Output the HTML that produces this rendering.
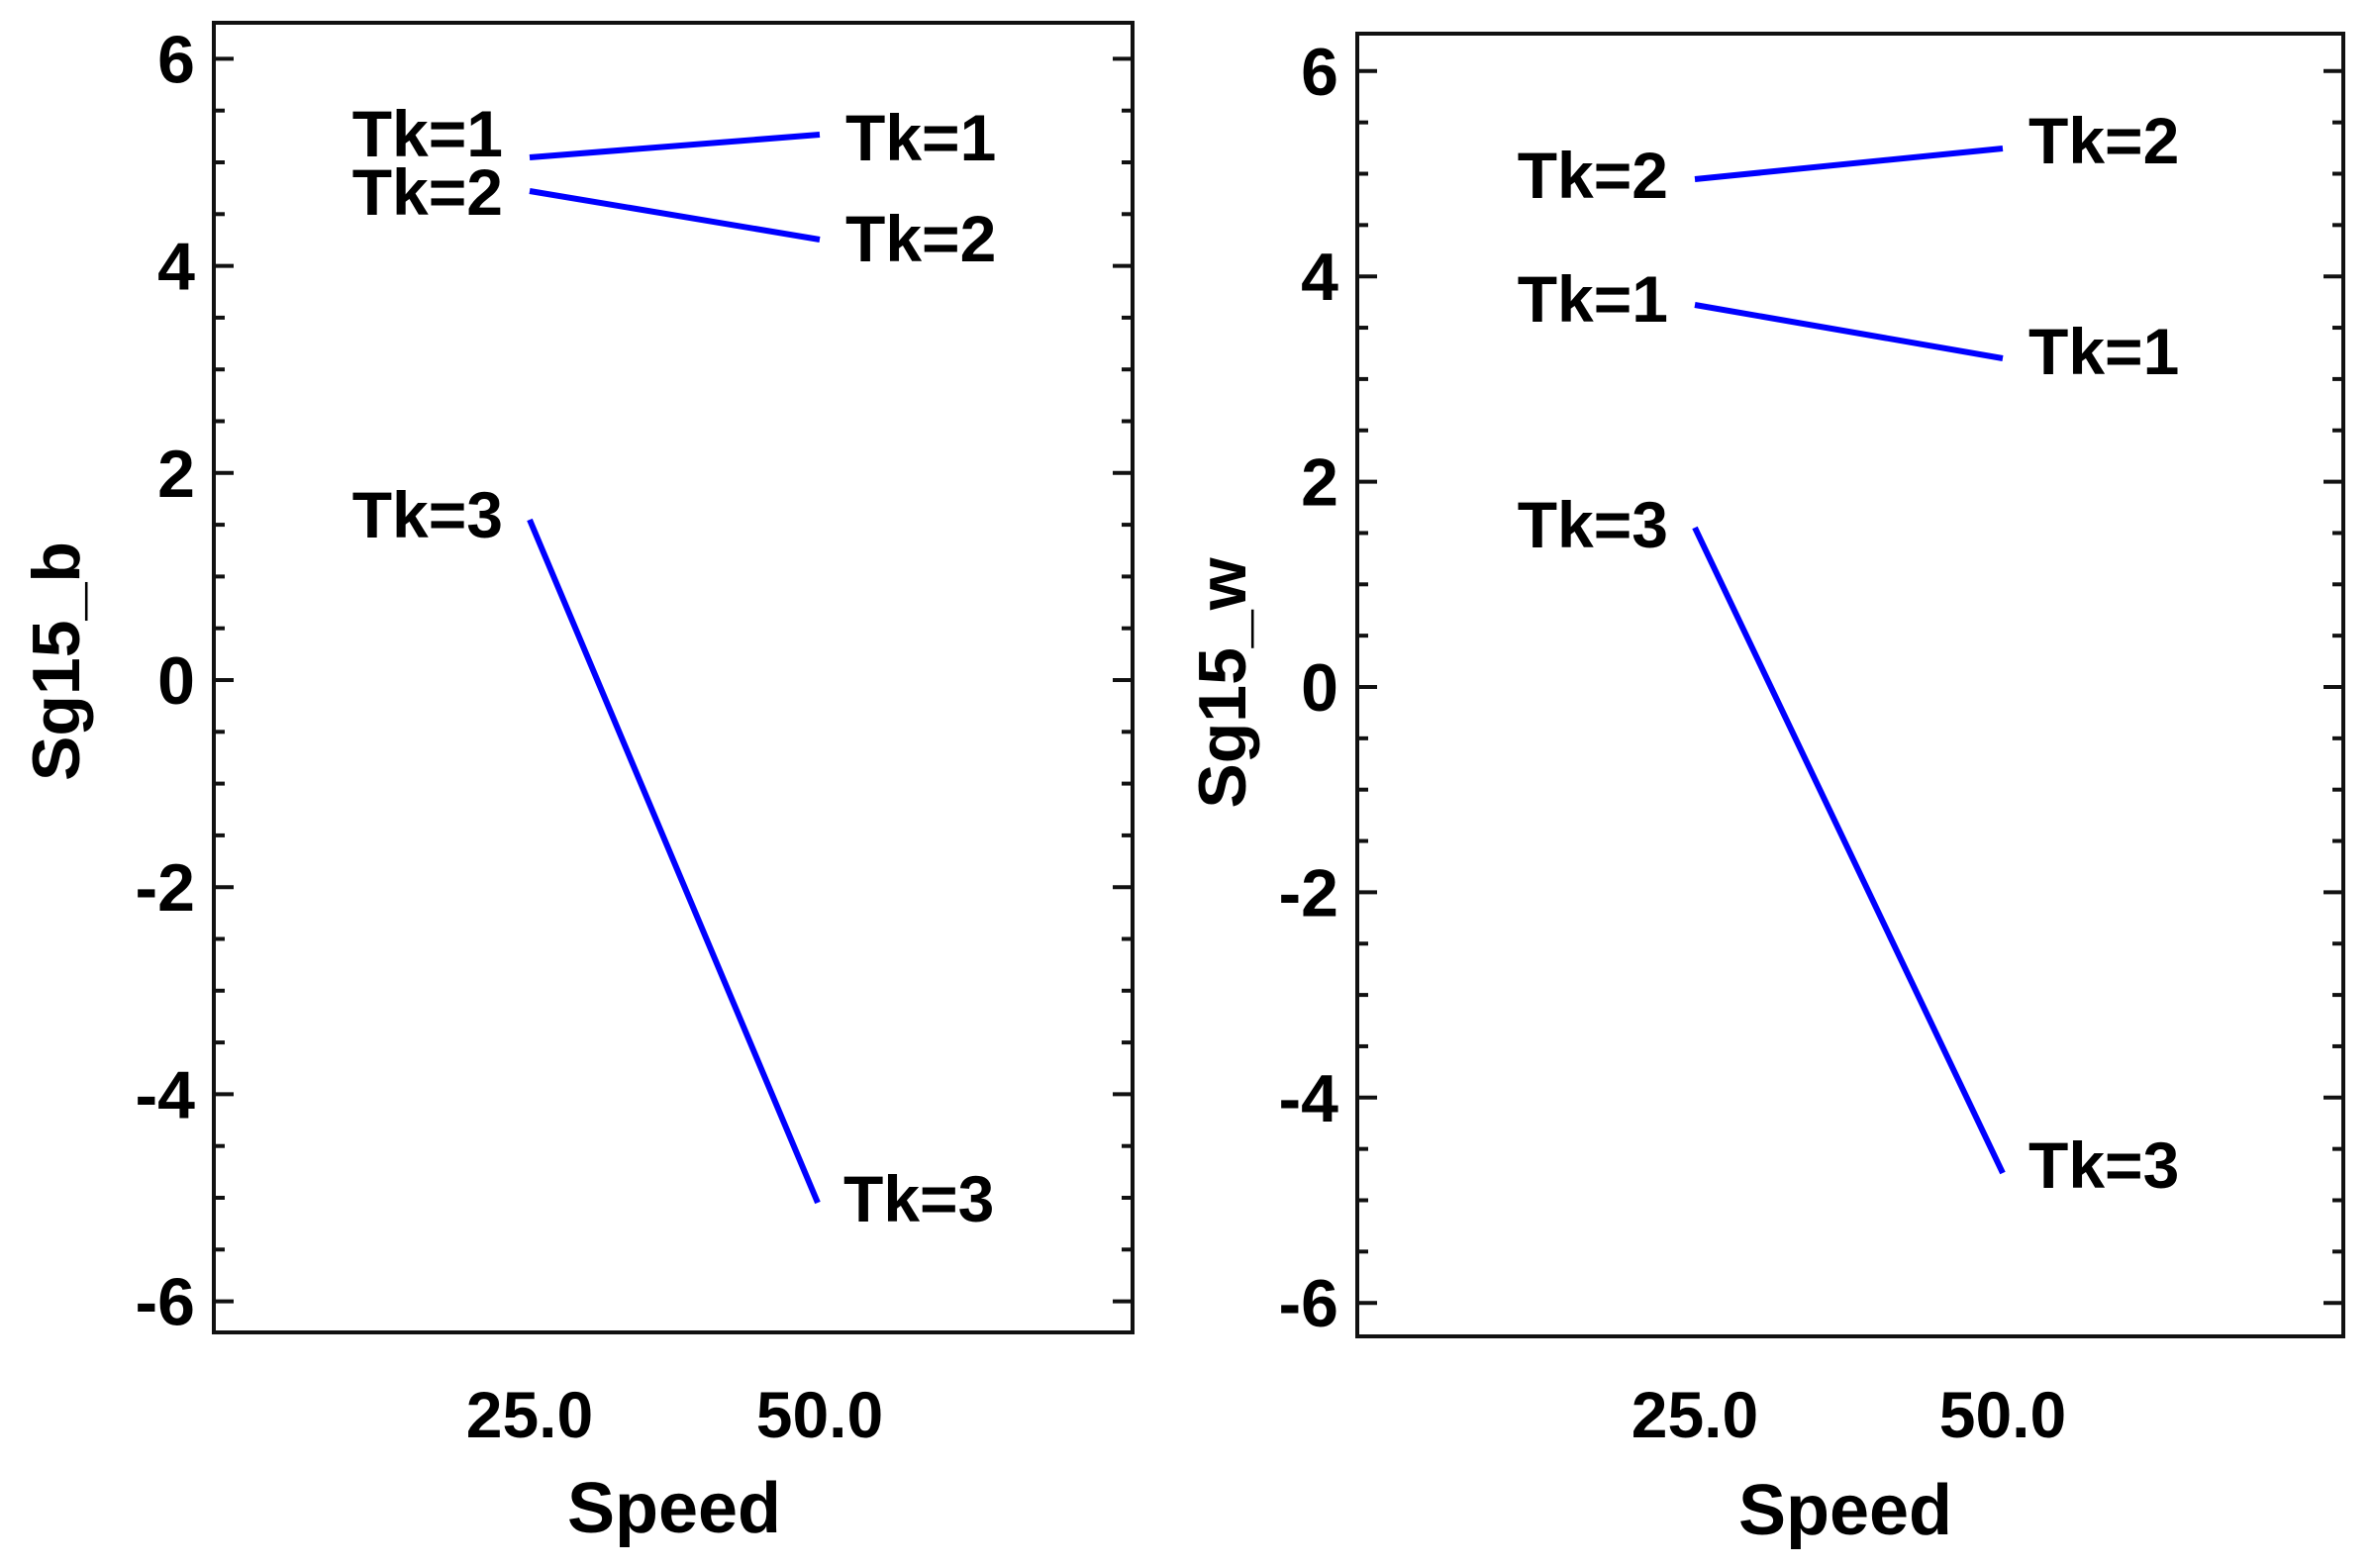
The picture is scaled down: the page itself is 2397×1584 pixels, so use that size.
<!DOCTYPE html>
<html><head><meta charset="utf-8"><style>
html,body{margin:0;padding:0;background:#fff;}
svg{display:block;}
text{font-family:"Liberation Sans",Arial,sans-serif;font-weight:bold;fill:#000;}
</style></head><body>
<svg id="s" width="2397" height="1584" viewBox="0 0 2397 1584" xmlns="http://www.w3.org/2000/svg">
<rect width="2397" height="1584" fill="#fff"/>
<!-- left plot -->
<rect x="216" y="23" width="928" height="1323" fill="none" stroke="#111" stroke-width="4"/>
<g id="lt"></g>
<polyline points="535,159 828,136" stroke="#0000ff" stroke-width="6" fill="none"/>
<polyline points="535,193 828,242" stroke="#0000ff" stroke-width="6" fill="none"/>
<polyline points="535,525 826,1215" stroke="#0000ff" stroke-width="6" fill="none"/>
<g font-size="66">
<text x="508" y="158" text-anchor="end">Tk=1</text>
<text x="508" y="217" text-anchor="end">Tk=2</text>
<text x="508" y="543" text-anchor="end">Tk=3</text>
<text x="854" y="162">Tk=1</text>
<text x="854" y="264">Tk=2</text>
<text x="852" y="1234">Tk=3</text>
</g>
<g font-size="66" text-anchor="middle">
<text x="535" y="1452">25.0</text>
<text x="828" y="1452">50.0</text>
</g>
<text x="681" y="1548" font-size="72" text-anchor="middle">Speed</text>
<text transform="translate(80,668) rotate(-90)" font-size="68" text-anchor="middle">Sg15_b</text>

<!-- right plot -->
<rect x="1371" y="34" width="996" height="1316" fill="none" stroke="#111" stroke-width="4"/>
<g id="rt"></g>
<polyline points="1712,181 2023,150" stroke="#0000ff" stroke-width="6" fill="none"/>
<polyline points="1712,308 2023,362" stroke="#0000ff" stroke-width="6" fill="none"/>
<polyline points="1712,533 2023,1185" stroke="#0000ff" stroke-width="6" fill="none"/>
<g font-size="66">
<text x="1685" y="200" text-anchor="end">Tk=2</text>
<text x="1685" y="325" text-anchor="end">Tk=1</text>
<text x="1685" y="553" text-anchor="end">Tk=3</text>
<text x="2049" y="165">Tk=2</text>
<text x="2049" y="378">Tk=1</text>
<text x="2049" y="1200">Tk=3</text>
</g>
<g font-size="66" text-anchor="middle">
<text x="1712" y="1452">25.0</text>
<text x="2023" y="1452">50.0</text>
</g>
<text x="1864" y="1550" font-size="72" text-anchor="middle">Speed</text>
<text transform="translate(1258,690) rotate(-90)" font-size="68" text-anchor="middle">Sg15_w</text>
</svg>
<script>
(function(){
var NS="http://www.w3.org/2000/svg";
function mk(g,x0,x1,y0,slope,lblX){
  var G=document.getElementById(g);
  for(var i=-12;i<=12;i++){
    var v=i/2, y=y0-slope*v, major=(i%4===0);
    var L=major?20:11;
    [[x0,x0+L],[x1,x1-L]].forEach(function(p){
      var l=document.createElementNS(NS,"line");
      l.setAttribute("x1",p[0]);l.setAttribute("x2",p[1]);
      l.setAttribute("y1",y);l.setAttribute("y2",y);
      l.setAttribute("stroke","#111");l.setAttribute("stroke-width","4");
      G.appendChild(l);
    });
    if(major){
      var t=document.createElementNS(NS,"text");
      t.setAttribute("x",lblX);t.setAttribute("y",y+24);
      t.setAttribute("font-size","68");t.setAttribute("text-anchor","end");
      t.textContent=String(v);
      G.appendChild(t);
    }
  }
}
mk("lt",216,1144,687,104.6,197);
mk("rt",1371,2367,694,103.7,1352);
})();
</script>
</body></html>
